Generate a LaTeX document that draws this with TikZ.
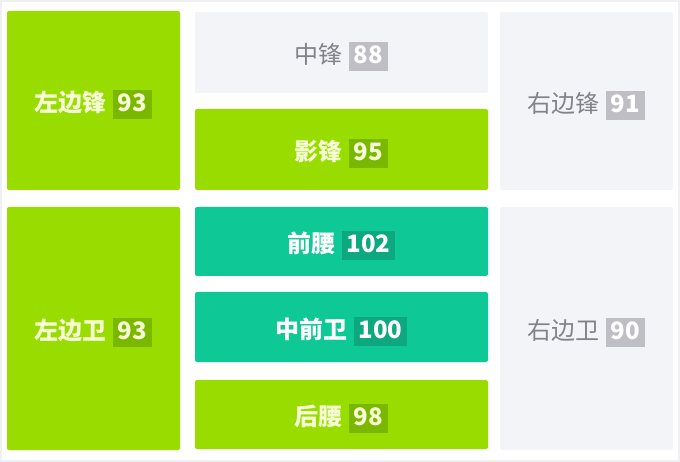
\documentclass[tikz,border=0pt]{standalone}
\usepackage{fontspec}
\setmainfont{Noto Sans CJK SC}

\definecolor{limefill}{RGB}{152,220,0}
\definecolor{limebadge}{RGB}{122,184,0}
\definecolor{limetext}{RGB}{246,255,214}
\definecolor{tealfill}{RGB}{14,200,150}
\definecolor{tealbadge}{RGB}{14,168,128}
\definecolor{greyfill}{RGB}{243,244,247}
\definecolor{greybadge}{RGB}{190,190,196}
\definecolor{greytext}{RGB}{130,130,138}
\definecolor{framegrey}{RGB}{240,240,242}

% number tag beside a position name
\newcommand{\tagnum}[2]{\hspace{6pt}{\setlength{\fboxsep}{3.5pt}\colorbox{#1}{\kern1.5pt\bfseries\rule[-4pt]{0pt}{21pt}#2\kern1.5pt}}}

\tikzset{
  posbox/.style={rectangle, rounded corners=2pt, inner sep=0pt, anchor=center, text height=30pt, font=\fontsize{24}{28}\selectfont},
  hot/.style={posbox, fill=limefill, text=limetext, font=\fontsize{24}{28}\selectfont\bfseries},
  mid/.style={posbox, fill=tealfill, text=white, font=\fontsize{24}{28}\selectfont\bfseries},
  cold/.style={posbox, fill=greyfill, text=greytext}
}

\begin{document}
\begin{tikzpicture}[x=1pt,y=-1pt]

  \useasboundingbox (0,0) rectangle (680,462);
  \draw[framegrey, line width=1.5pt] (1,1) rectangle (679,461);

  % left column
  \node[hot, minimum width=173pt, minimum height=179pt] (lwf) at (93.5,100.5)
    {左边锋\tagnum{limebadge}{93}};
  \node[hot, minimum width=173pt, minimum height=243pt] (lwb) at (93.5,328.5)
    {左边卫\tagnum{limebadge}{93}};

  % middle column
  \node[cold, minimum width=293pt, minimum height=81pt] (cf) at (341.5,52.5)
    {中锋\tagnum{greybadge}{\textcolor{white}{88}}};
  \node[hot, minimum width=293pt, minimum height=81pt] (ss) at (341.5,149.5)
    {影锋\tagnum{limebadge}{95}};
  \node[mid, minimum width=293pt, minimum height=69pt] (am) at (341.5,241.5)
    {前腰\tagnum{tealbadge}{102}};
  \node[mid, minimum width=293pt, minimum height=70pt] (cm) at (341.5,327)
    {中前卫\tagnum{tealbadge}{100}};
  \node[hot, minimum width=293pt, minimum height=69pt] (dm) at (341.5,414.5)
    {后腰\tagnum{limebadge}{98}};

  % right column
  \node[cold, minimum width=173pt, minimum height=178pt] (rwf) at (586.5,101)
    {右边锋\tagnum{greybadge}{\textcolor{white}{91}}};
  \node[cold, minimum width=173pt, minimum height=243pt] (rwb) at (586.5,328.5)
    {右边卫\tagnum{greybadge}{\textcolor{white}{90}}};

\end{tikzpicture}
\end{document}
